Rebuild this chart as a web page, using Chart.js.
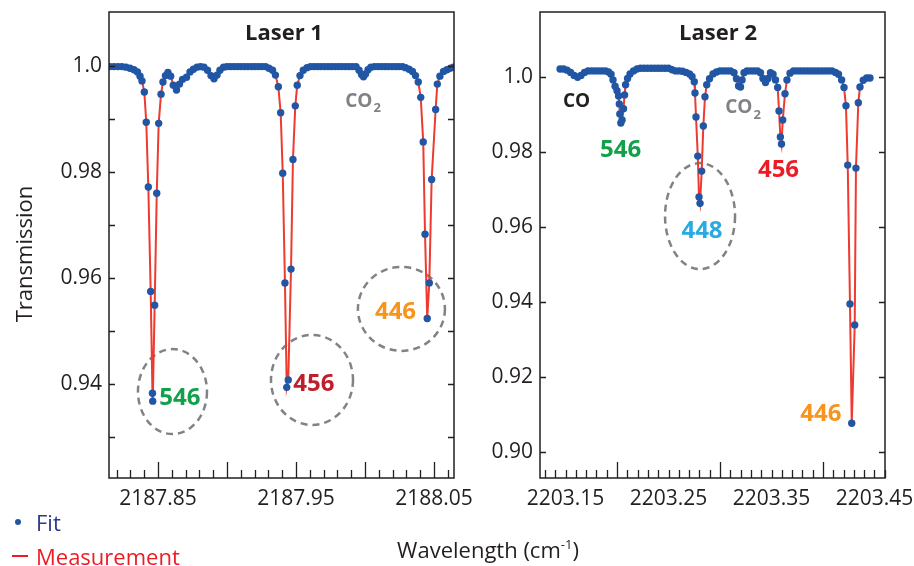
<!DOCTYPE html>
<html>
<head>
<meta charset="utf-8">
<script src="https://cdn.jsdelivr.net/npm/chart.js@4.4.0/dist/chart.umd.min.js"></script>
<style>
  body { margin: 0; background: #fff; }
  #wrap { position: relative; width: 914px; height: 566px; font-family: 'Open Sans', sans-serif; color: #231f20; overflow: hidden; }
  canvas { position: absolute; top: 0; }
  #c1 { left: 0; }
  #c2 { left: 480px; }
  .lbl { position: absolute; font-size: 22px; line-height: 1; white-space: nowrap; }
  .lbl sup { font-size: 13px; vertical-align: 9px; }
</style>
</head>
<body>
<div id="wrap">
  <canvas id="c1" width="480" height="566"></canvas>
  <canvas id="c2" width="434" height="566"></canvas>
  <div class="lbl" style="left:23px;top:254px;transform:translate(-50%,-50%) rotate(-90deg);">Transmission</div>
  <div class="lbl" style="left:488px;top:549px;transform:translate(-50%,-50%);">Wavelength (cm<sup>-1</sup>)</div>
  <div style="position:absolute;left:15px;top:519px;width:6px;height:6px;border-radius:50%;background:#2156a5;"></div>
  <div class="lbl" style="left:36px;top:511px;color:#2b3990;">Fit</div>
  <div style="position:absolute;left:12px;top:555px;width:16px;height:2px;background:#ed1c24;"></div>
  <div class="lbl" style="left:36px;top:545px;color:#ed1c24;">Measurement</div>
</div>
<script>
// ---- Laser 1 (wavenumber in cm-1, transmission) ----
const laser1Wave = [
  2187.8152, 2187.8181, 2187.8210, 2187.8239, 2187.8268, 2187.8297, 2187.8326, 2187.8351, 2187.8370, 2187.8384,
  2187.8401, 2187.8415, 2187.8430, 2187.8447, 2187.8460, 2187.8462, 2187.8476, 2187.8491, 2187.8505, 2187.8522,
  2187.8536, 2187.8554, 2187.8572, 2187.8592, 2187.8611, 2187.8634, 2187.8656, 2187.8678, 2187.8707, 2187.8732,
  2187.8757, 2187.8783, 2187.8808, 2187.8833, 2187.8859, 2187.8884, 2187.8906, 2187.8928, 2187.8949, 2187.8975,
  2187.9000, 2187.9025, 2187.9051, 2187.9076, 2187.9101, 2187.9127, 2187.9152, 2187.9178, 2187.9203, 2187.9228,
  2187.9254, 2187.9279, 2187.9304, 2187.9330, 2187.9351, 2187.9372, 2187.9389, 2187.9404, 2187.9420, 2187.9433,
  2187.9444, 2187.9464, 2187.9478, 2187.9495, 2187.9509, 2187.9529, 2187.9553, 2187.9580, 2187.9605, 2187.9630,
  2187.9656, 2187.9681, 2187.9707, 2187.9732, 2187.9757, 2187.9783, 2187.9808, 2187.9833, 2187.9859, 2187.9884,
  2187.9909, 2187.9935, 2187.9957, 2187.9975, 2187.9989, 2188.0004, 2188.0022, 2188.0043, 2188.0069, 2188.0094,
  2188.0120, 2188.0145, 2188.0170, 2188.0196, 2188.0221, 2188.0246, 2188.0272, 2188.0293, 2188.0319, 2188.0344,
  2188.0366, 2188.0386, 2188.0404, 2188.0422, 2188.0435, 2188.0451, 2188.0466, 2188.0483, 2188.0512, 2188.0524,
  2188.0543, 2188.0569, 2188.0594, 2188.0620, 2188.0641
];
const laser1Trans = [
  0.9999, 0.9999, 0.9999, 0.9999, 0.9998, 0.9996, 0.9993, 0.9989, 0.9981, 0.9972,
  0.9951, 0.9894, 0.9772, 0.9575, 0.9383, 0.9368, 0.9549, 0.9760, 0.9892, 0.9947,
  0.9970, 0.9982, 0.9988, 0.9981, 0.9964, 0.9955, 0.9966, 0.9975, 0.9979, 0.9989,
  0.9994, 0.9998, 0.9999, 0.9998, 0.9992, 0.9982, 0.9976, 0.9983, 0.9992, 0.9998,
  0.9999, 0.9999, 0.9999, 0.9999, 0.9999, 0.9999, 0.9999, 0.9999, 0.9999, 0.9999,
  0.9999, 0.9999, 0.9996, 0.9992, 0.9983, 0.9961, 0.9912, 0.9798, 0.9591, 0.9394,
  0.9408, 0.9617, 0.9824, 0.9925, 0.9964, 0.9982, 0.9992, 0.9997, 0.9999, 0.9999,
  0.9999, 0.9999, 0.9999, 0.9999, 0.9999, 0.9999, 0.9999, 0.9999, 0.9999, 0.9999,
  0.9999, 0.9999, 0.9992, 0.9984, 0.9980, 0.9985, 0.9993, 0.9998, 0.9999, 0.9999,
  0.9999, 0.9999, 0.9999, 0.9999, 0.9999, 0.9999, 0.9999, 0.9997, 0.9994, 0.9990,
  0.9982, 0.9970, 0.9941, 0.9857, 0.9683, 0.9524, 0.9591, 0.9786, 0.9918, 0.9966,
  0.9981, 0.9990, 0.9993, 0.9996, 0.9998
];
const laser1XLabels = ['2187.85', '2187.95', '2188.05'];
const laser1YLabels = ['0.94', '0.96', '0.98', '1.0'];

// ---- Laser 2 ----
const laser2Wave = [
  2203.1447, 2203.1481, 2203.1515, 2203.1549, 2203.1583, 2203.1617, 2203.1650, 2203.1684, 2203.1718, 2203.1752,
  2203.1786, 2203.1820, 2203.1854, 2203.1888, 2203.1917, 2203.1942, 2203.1961, 2203.1981, 2203.2000, 2203.2015,
  2203.2022, 2203.2027, 2203.2037, 2203.2049, 2203.2063, 2203.2073, 2203.2083, 2203.2102, 2203.2126, 2203.2160,
  2203.2194, 2203.2228, 2203.2262, 2203.2296, 2203.2330, 2203.2364, 2203.2398, 2203.2432, 2203.2466, 2203.2500,
  2203.2534, 2203.2568, 2203.2602, 2203.2636, 2203.2670, 2203.2704, 2203.2728, 2203.2750, 2203.2757, 2203.2767,
  2203.2784, 2203.2796, 2203.2806, 2203.2822, 2203.2838, 2203.2854, 2203.2871, 2203.2898, 2203.2932, 2203.2966,
  2203.3000, 2203.3034, 2203.3068, 2203.3102, 2203.3136, 2203.3160, 2203.3180, 2203.3199, 2203.3214, 2203.3233,
  2203.3262, 2203.3296, 2203.3330, 2203.3364, 2203.3393, 2203.3417, 2203.3442, 2203.3466, 2203.3490, 2203.3515,
  2203.3539, 2203.3560, 2203.3573, 2203.3586, 2203.3597, 2203.3609, 2203.3631, 2203.3650, 2203.3680, 2203.3714,
  2203.3748, 2203.3782, 2203.3816, 2203.3850, 2203.3883, 2203.3917, 2203.3951, 2203.3985, 2203.4019, 2203.4053,
  2203.4087, 2203.4121, 2203.4150, 2203.4181, 2203.4204, 2203.4223, 2203.4240, 2203.4262, 2203.4279, 2203.4308,
  2203.4320, 2203.4343, 2203.4359, 2203.4391, 2203.4424, 2203.4456
];
const laser2Trans = [
  1.0021, 1.0021, 1.0018, 1.0012, 1.0004, 0.9999, 1.0004, 1.0012, 1.0016, 1.0016,
  1.0016, 1.0016, 1.0016, 1.0016, 1.0013, 1.0007, 0.9992, 0.9975, 0.9963, 0.9949,
  0.9928, 0.9901, 0.9877, 0.9885, 0.9915, 0.9952, 0.9979, 0.9996, 1.0008, 1.0016,
  1.0021, 1.0023, 1.0023, 1.0023, 1.0023, 1.0023, 1.0023, 1.0023, 1.0023, 1.0023,
  1.0019, 1.0016, 1.0016, 1.0015, 1.0012, 1.0008, 1.0001, 0.9987, 0.9957, 0.9893,
  0.9789, 0.9680, 0.9663, 0.9749, 0.9869, 0.9947, 0.9979, 0.9995, 1.0008, 1.0013,
  1.0016, 1.0016, 1.0016, 1.0016, 1.0011, 0.9995, 0.9976, 0.9973, 0.9992, 1.0011,
  1.0016, 1.0016, 1.0016, 1.0016, 1.0011, 0.9996, 0.9985, 0.9996, 1.0011, 1.0007,
  0.9992, 0.9972, 0.9909, 0.9840, 0.9821, 0.9885, 0.9955, 0.9992, 1.0010, 1.0016,
  1.0016, 1.0016, 1.0016, 1.0016, 1.0016, 1.0016, 1.0016, 1.0016, 1.0016, 1.0016,
  1.0016, 1.0012, 1.0007, 0.9992, 0.9972, 0.9923, 0.9765, 0.9395, 0.9077, 0.9339,
  0.9757, 0.9931, 0.9973, 0.9991, 0.9997, 0.9997
];
const laser2XLabels = ['2203.15', '2203.25', '2203.35', '2203.45'];
const laser2YLabels = ['0.90', '0.92', '0.94', '0.96', '0.98', '1.0'];

const TEXT = '#231f20';
const GREEN = '#12a04b', ORANGE = '#f7941d', GREY = '#808285';

Chart.defaults.font.family = "'Open Sans', sans-serif";
Chart.defaults.color = TEXT;

function steps(from, to, step) {
  const out = [];
  for (let v = from; v <= to + step / 2; v += step) out.push(Math.round(v * 1000) / 1000);
  return out;
}

function labelFor(value, labels) {
  const hit = labels.find(l => Math.abs(parseFloat(l) - value) < 1e-6);
  return hit || '';
}

// frame + inward tick marks
const frameTicks = {
  id: 'frameTicks',
  afterDatasetsDraw(chart, args, opts) {
    const { ctx, chartArea: a, scales: { x, y } } = chart;
    ctx.save();
    ctx.strokeStyle = TEXT;
    ctx.lineWidth = 1.5;
    ctx.strokeRect(a.left, a.top, a.right - a.left, a.bottom - a.top);
    ctx.lineWidth = 1.3;
    ctx.beginPath();
    x.ticks.forEach(t => {
      const px = Math.round(x.getPixelForValue(t.value)) + 0.5;
      const len = Math.round(t.value * 100) % opts.majorEvery === 0 ? 16 : 8;
      ctx.moveTo(px, a.bottom);
      ctx.lineTo(px, a.bottom - len);
    });
    y.ticks.forEach(t => {
      const py = Math.round(y.getPixelForValue(t.value)) + 0.5;
      ctx.moveTo(a.left, py); ctx.lineTo(a.left + 6, py);
      ctx.moveTo(a.right, py); ctx.lineTo(a.right - 6, py);
    });
    ctx.stroke();
    ctx.restore();
  }
};

// dashed rings and labels placed in data coordinates
const notes = {
  id: 'notes',
  beforeDatasetsDraw(chart, args, opts) {
    const { ctx, scales: { x, y } } = chart;
    ctx.save();
    ctx.setLineDash([7, 5]);
    ctx.strokeStyle = GREY;
    ctx.lineWidth = 2.5;
    (opts.rings || []).forEach(r => {
      ctx.beginPath();
      ctx.ellipse(x.getPixelForValue(r.x), y.getPixelForValue(r.y), r.rx, r.ry, 0, 0, Math.PI * 2);
      ctx.stroke();
    });
    ctx.restore();
  },
  afterDatasetsDraw(chart, args, opts) {
    const { ctx, scales: { x, y } } = chart;
    ctx.save();
    ctx.textBaseline = 'alphabetic';
    ctx.textAlign = 'left';
    (opts.texts || []).forEach(t => {
      const main = `bold ${t.size}px 'Open Sans'`;
      const sub = `bold ${Math.round(t.size * 0.68)}px 'Open Sans'`;
      ctx.font = main;
      const w1 = ctx.measureText(t.text).width;
      let w2 = 0;
      if (t.sub) { ctx.font = sub; w2 = ctx.measureText(t.sub).width + 1; }
      const left = x.getPixelForValue(t.x) - (w1 + w2) / 2;
      const base = y.getPixelForValue(t.y) + t.size * 0.36;
      ctx.fillStyle = t.color;
      ctx.font = main;
      ctx.fillText(t.text, left, base);
      if (t.sub) { ctx.font = sub; ctx.fillText(t.sub, left + w1 + 1, base + t.size * 0.28); }
    });
    ctx.restore();
  }
};

function makeChart(id, wave, trans, cfg) {
  const pts = wave.map((w, i) => ({ x: w, y: trans[i] }));
  const zeroPad = s => { s.paddingLeft = 0; s.paddingRight = 0; s.paddingTop = 0; s.paddingBottom = 0; };
  return new Chart(document.getElementById(id), {
    type: 'line',
    data: {
      datasets: [
        { label: 'Fit', data: pts, showLine: false, pointRadius: 3.7, pointHoverRadius: 3.7,
          pointBackgroundColor: '#2156a5', pointBorderWidth: 0, order: 0 },
        { label: 'Measurement', data: pts, borderColor: '#ee3a2f', borderWidth: 2,
          pointRadius: 0, tension: 0, order: 1 }
      ]
    },
    options: {
      responsive: false,
      animation: false,
      devicePixelRatio: 1,
      events: [],
      layout: { padding: { top: 12, right: cfg.padRight, left: 0, bottom: 0 } },
      plugins: {
        legend: { display: false },
        tooltip: { enabled: false },
        frameTicks: { majorEvery: cfg.majorEvery },
        notes: { rings: cfg.rings, texts: cfg.texts }
      },
      scales: {
        x: {
          type: 'linear', min: cfg.xMin, max: cfg.xMax,
          afterBuildTicks: s => { s.ticks = cfg.xTicks.map(v => ({ value: v })); },
          ticks: { autoSkip: false, maxRotation: 0, padding: 8, font: { size: 21 }, color: TEXT,
                   callback: v => labelFor(v, cfg.xLabels) },
          grid: { display: false, drawTicks: false },
          border: { display: false },
          afterFit: s => { s.height = 88; zeroPad(s); }
        },
        y: {
          min: cfg.yMin, max: cfg.yMax,
          afterBuildTicks: s => { s.ticks = cfg.yTicks.map(v => ({ value: v })); },
          ticks: { autoSkip: false, padding: 7, font: { size: 21 }, color: TEXT,
                   callback: v => labelFor(v, cfg.yLabels) },
          grid: { display: false, drawTicks: false },
          border: { display: false },
          afterFit: s => { s.width = cfg.yWidth; zeroPad(s); }
        }
      }
    },
    plugins: [frameTicks, notes]
  });
}

makeChart('c1', laser1Wave, laser1Trans, {
  xMin: 2187.8145, xMax: 2188.0645, yMin: 0.9223, yMax: 1.0102,
  xTicks: steps(2187.82, 2188.06, 0.01), yTicks: steps(0.93, 1.0, 0.01),
  xLabels: laser1XLabels, yLabels: laser1YLabels,
  majorEvery: 5, yWidth: 109, padRight: 26,
  rings: [
    { x: 2187.8605, y: 0.9386, rx: 34.5, ry: 42.5 },
    { x: 2187.9616, y: 0.9408, rx: 41, ry: 45 },
    { x: 2188.0264, y: 0.9542, rx: 43.5, ry: 42 }
  ],
  texts: [
    { text: 'Laser 1', x: 2187.9413, y: 1.0065, size: 22, color: TEXT },
    { text: 'CO', sub: '2', x: 2187.9986, y: 0.9936, size: 19, color: GREY },
    { text: '546', x: 2187.8659, y: 0.9377, size: 24, color: GREEN },
    { text: '456', x: 2187.9630, y: 0.9404, size: 24, color: '#be1e2d' },
    { text: '446', x: 2188.0221, y: 0.9540, size: 24, color: ORANGE }
  ]
});

makeChart('c2', laser2Wave, laser2Trans, {
  xMin: 2203.1252, xMax: 2203.4602, yMin: 0.8931, yMax: 1.0173,
  xTicks: steps(2203.13, 2203.46, 0.01), yTicks: steps(0.90, 1.0, 0.02),
  xLabels: laser2XLabels, yLabels: laser2YLabels,
  majorEvery: 10, yWidth: 60, padRight: 29,
  rings: [
    { x: 2203.2806, y: 0.9629, rx: 35, ry: 53 }
  ],
  texts: [
    { text: 'Laser 2', x: 2203.2981, y: 1.0120, size: 22, color: TEXT },
    { text: 'CO', x: 2203.1607, y: 0.9939, size: 19, color: TEXT },
    { text: 'CO', sub: '2', x: 2203.3223, y: 0.9921, size: 19, color: GREY },
    { text: '546', x: 2203.2034, y: 0.9809, size: 24, color: GREEN },
    { text: '456', x: 2203.3568, y: 0.9757, size: 24, color: '#ed1c24' },
    { text: '448', x: 2203.2825, y: 0.9595, size: 24, color: '#29abe2' },
    { text: '446', x: 2203.3980, y: 0.9107, size: 24, color: ORANGE }
  ]
});
</script>
</body>
</html>
